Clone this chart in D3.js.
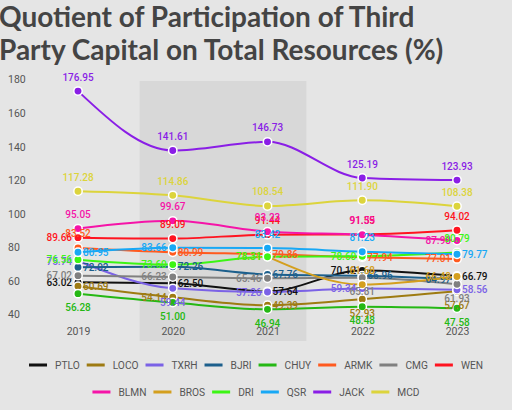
<!DOCTYPE html>
<html><head><meta charset="utf-8">
<script src="https://cdn.jsdelivr.net/npm/d3@7/dist/d3.min.js"></script>
<style>
html,body{margin:0;padding:0;background:#e5e5e5;}
svg{display:block;}
</style></head>
<body>
<svg id="c" width="512" height="410"></svg>
<script>
const years = ["2019","2020","2021","2022","2023"];
const seriesNames = ["PTLO","LOCO","TXRH","BJRI","CHUY","ARMK","CMG","WEN","BLMN","BROS","DRI","QSR","JACK","MCD"];
const PTLO = [63.02, 62.50, 57.64, 70.12, 66.79];
const LOCO = [60.69, 54.14, 49.39, 52.93, 57.67];
const TXRH = [75.74, 59.44, 57.26, 59.34, 58.56];
const BJRI = [72.02, 72.26, 67.76, 66.96, 64.97];
const CHUY = [56.28, 51.00, 46.94, 48.48, 47.58];
const ARMK = [83.52, 80.99, 79.86, 77.94, 77.01];
const CMG  = [67.02, 66.23, 65.46, 65.81, 61.93];
const WEN  = [89.66, 89.09, 91.44, 91.55, 94.02];
const BLMN = [95.05, 99.67, 93.23, 91.39, 87.98];
const BROS = [null, null, 78.34, 61.68, 66.48];
const DRI  = [76.56, 73.60, 78.31, 78.60, 80.79];
const QSR  = [80.95, 83.66, 83.42, 81.23, 79.77];
const JACK = [176.95, 141.61, 146.73, 125.19, 123.93];
const MCD  = [117.28, 114.86, 108.54, 111.90, 108.38];
const yTicks = [40, 60, 80, 100, 120, 140, 160, 180];
const titleLines = ["Quotient of Participation of Third", "Party Capital on Total Resources (%)"];

// style: colors and label placement (t/b/l/r) per point
const colors = {PTLO:"#111111",LOCO:"#9e7b12",TXRH:"#7b62e6",BJRI:"#1c5f8c",CHUY:"#25b814",ARMK:"#ff5a1f",CMG:"#808080",WEN:"#ff1420",BLMN:"#f514a8",BROS:"#d49f1e",DRI:"#3cf514",QSR:"#18a8f5",JACK:"#8a1ee6",MCD:"#dcd43c"};
const labelPos = {
  PTLO:["l","r","r","l","r"], LOCO:["r","l","r","b","b"], TXRH:["l","b","l","l","r"],
  BJRI:["r","r","r","r","l"], CHUY:["b","b","b","b","b"], ARMK:["t","r","r","r","l"],
  CMG:["l","l","l","b","b"], WEN:["l","t","t","t","t"], BLMN:["t","t","t","t","l"],
  BROS:["l","l","l","t","l"], DRI:["l","l","l","l","t"], QSR:["r","l","t","t","r"],
  JACK:["t","t","t","t","t"], MCD:["t","t","t","t","t"]
};
const dataMap = {PTLO,LOCO,TXRH,BJRI,CHUY,ARMK,CMG,WEN,BLMN,BROS,DRI,QSR,JACK,MCD};

const svg = d3.select("#c");
svg.append("rect").attr("width",512).attr("height",410).attr("fill","#e5e5e5");

const x = d3.scalePoint().domain(years).range([78, 457]);
const y = d3.scaleLinear().domain([40, 180]).range([321, 86]);
const step = x.step();

// shaded area 2020-2021
svg.append("rect")
  .attr("x", x("2020") - 0.35*step)
  .attr("y", 81)
  .attr("width", (x("2021") + 0.41*step) - (x("2020") - 0.35*step))
  .attr("height", 260)
  .attr("fill", "#d8d8d8");

// title
const title = svg.append("text").attr("font-family","Lato, 'Open Sans', sans-serif")
  .attr("font-weight","700").attr("font-size",28).attr("fill","#444");
titleLines.forEach((t,i)=> title.append("tspan").attr("x",-1).attr("y",27 + i*33).text(t));

// y axis
const yAxis = d3.axisLeft(y).tickValues(yTicks).tickSize(0).tickPadding(0);
const gy = svg.append("g").call(yAxis);
gy.select(".domain").remove();
gy.selectAll("text").attr("x",8).attr("text-anchor","start").attr("dy","-0.3em")
  .attr("font-family","Roboto, sans-serif").attr("font-size",10.5).attr("fill","#555");

// x axis
const xAxis = d3.axisBottom(x).tickSize(0).tickPadding(0);
const gx = svg.append("g").attr("transform","translate(0,321)").call(xAxis);
gx.select(".domain").remove();
gx.selectAll("text").attr("y",11).attr("dy",null).attr("dominant-baseline","middle")
  .attr("font-family","Roboto, sans-serif").attr("font-size",10.5).attr("fill","#555");

const line = d3.line().defined(d=>d.v!=null).x(d=>x(d.year)).y(d=>y(d.v)).curve(d3.curveMonotoneX);
const series = seriesNames.map(n=>({name:n, pts: years.map((yr,i)=>({year:yr, v:dataMap[n][i], pos:labelPos[n][i]}))}));

const gLines = svg.append("g");
series.forEach(s=>{
  gLines.append("path").datum(s.pts).attr("d",line).attr("fill","none")
    .attr("stroke",colors[s.name]).attr("stroke-width",2);
});
const gDots = svg.append("g");
series.forEach(s=>{
  gDots.selectAll(null).data(s.pts.filter(p=>p.v!=null)).enter().append("circle")
    .attr("cx",d=>x(d.year)).attr("cy",d=>y(d.v)).attr("r",4.2)
    .attr("fill",colors[s.name]).attr("stroke","#fff").attr("stroke-width",1.5);
});
const gLab = svg.append("g").attr("font-family","Roboto, sans-serif").attr("font-size",10).attr("font-weight",500);
series.forEach(s=>{
  gLab.selectAll(null).data(s.pts.filter(p=>p.v!=null)).enter().append("text")
    .attr("x",d=>{const cx=x(d.year); return d.pos==="l"?cx-6:d.pos==="r"?cx+5:cx;})
    .attr("y",d=>{const cy=y(d.v); return d.pos==="t"?cy-14:d.pos==="b"?cy+14:cy;})
    .attr("text-anchor",d=>d.pos==="l"?"end":d.pos==="r"?"start":"middle")
    .attr("dominant-baseline","central")
    .attr("fill",colors[s.name])
    .text(d=>d.v.toFixed(2));
});

// legend
const rows = [seriesNames.slice(0,8), seriesNames.slice(8)];
const rowY = [365, 392];
const symW = 18, symGap = 8, itemGap = 7;
rows.forEach((row,ri)=>{
  const g = svg.append("g");
  let cx = 0;
  row.forEach(n=>{
    const it = g.append("g").attr("transform",`translate(${cx},0)`);
    it.append("rect").attr("x",0).attr("y",-1.5).attr("width",symW).attr("height",3).attr("fill",colors[n]);
    const t = it.append("text").attr("x",symW+symGap).attr("dominant-baseline","central")
      .attr("font-family","Roboto, sans-serif").attr("font-size",10.2).attr("fill","#555").text(n);
    cx += symW + symGap + t.node().getComputedTextLength() + itemGap;
  });
  const w = cx - itemGap;
  g.attr("transform",`translate(${256 - w/2},${rowY[ri]})`);
});
</script>
</body></html>
